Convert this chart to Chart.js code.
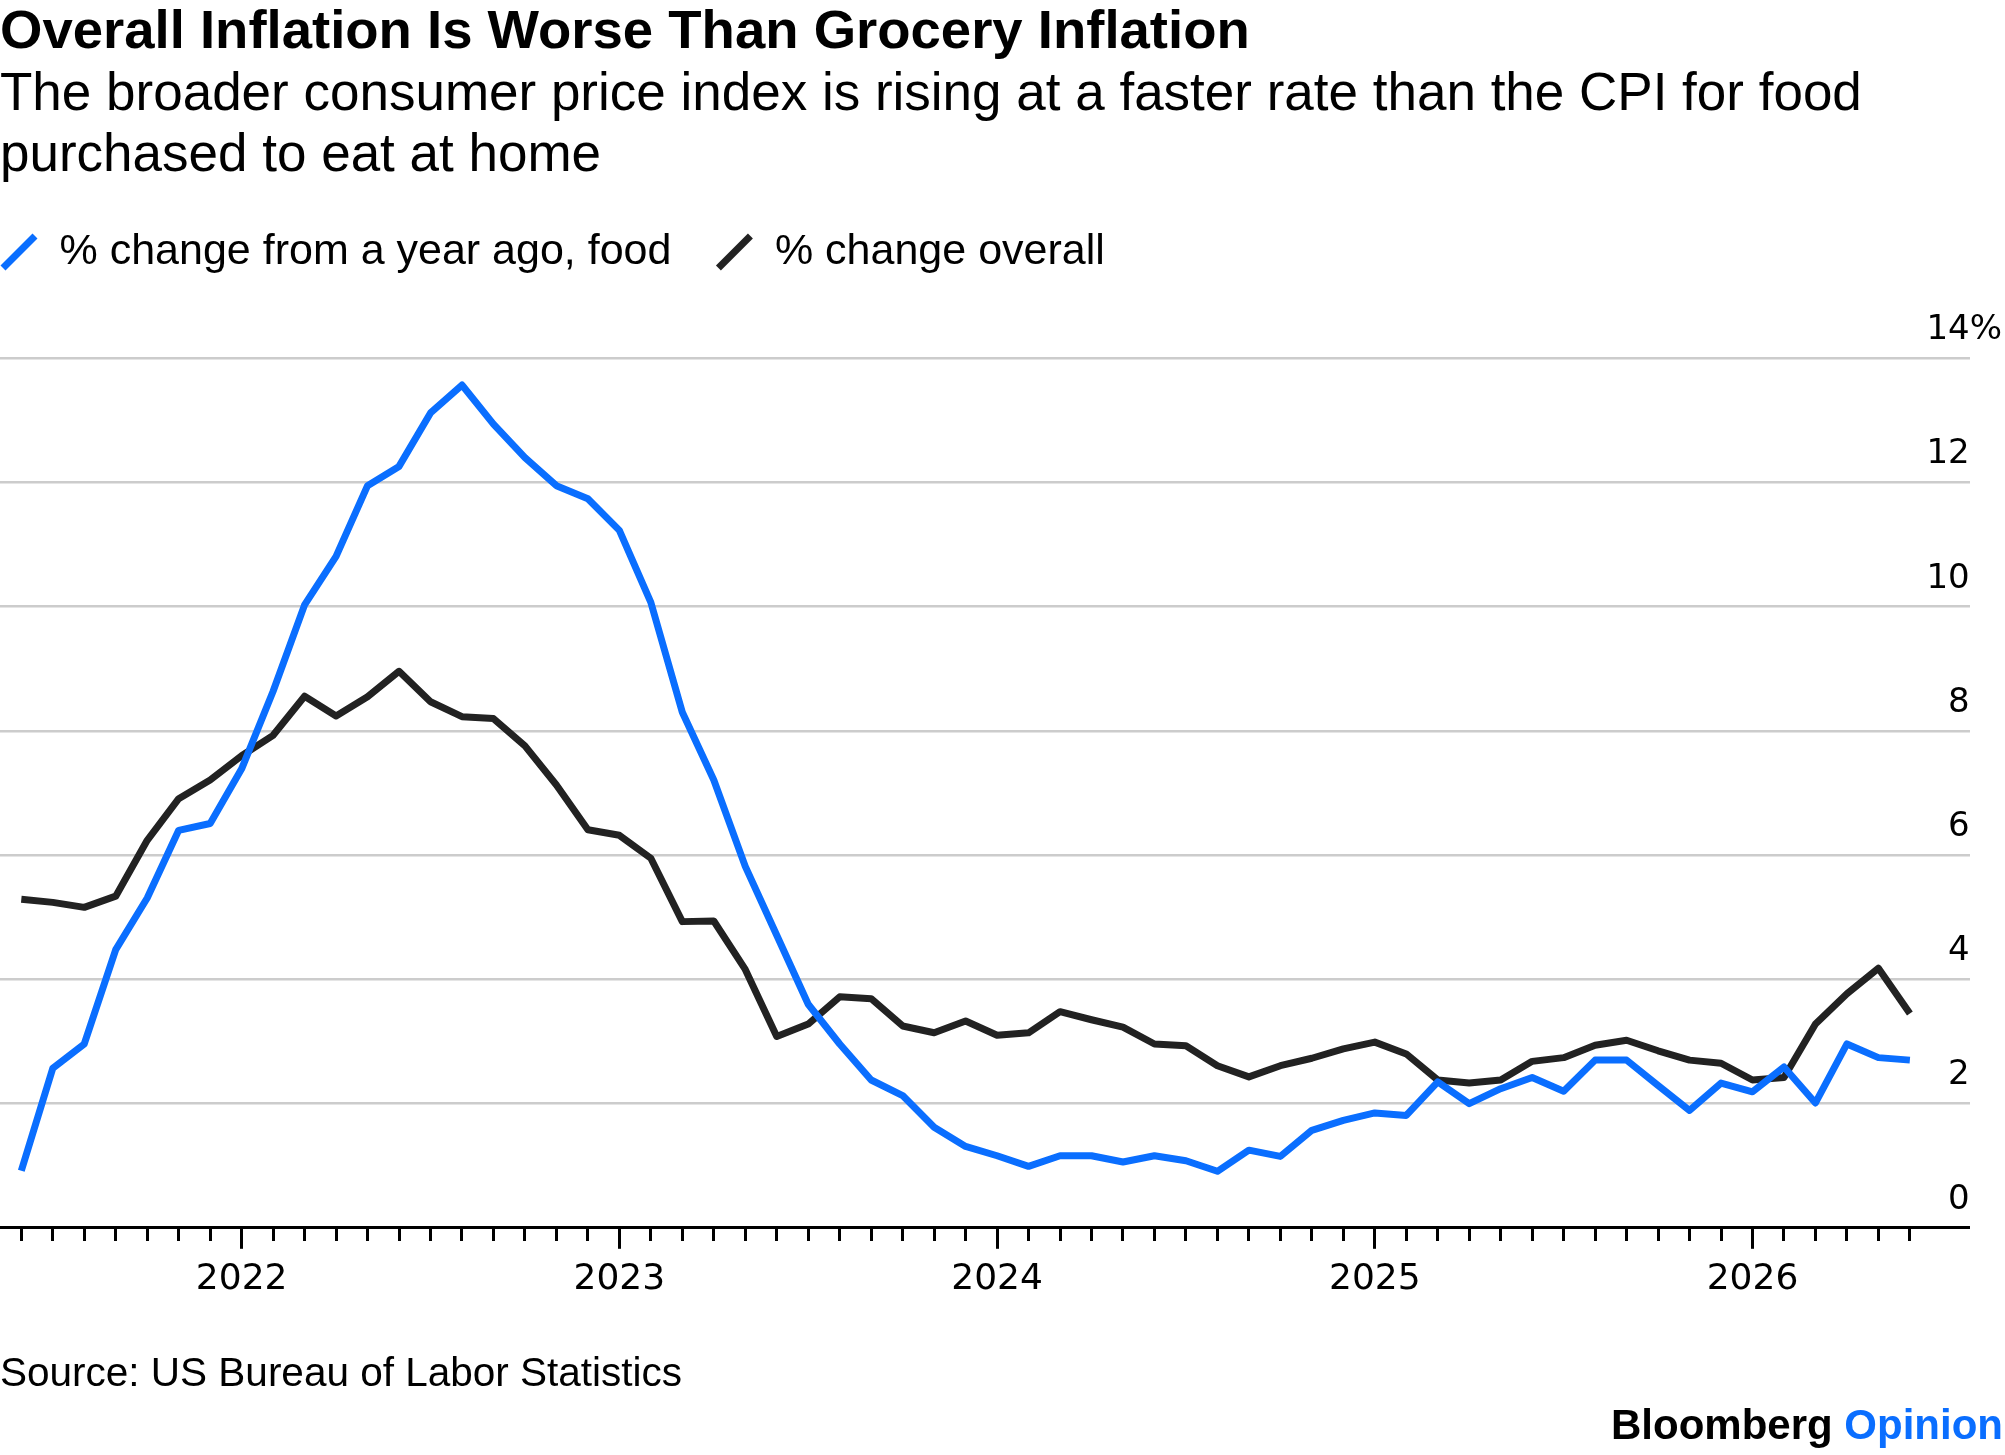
<!DOCTYPE html>
<html>
<head>
<meta charset="utf-8">
<script src="https://cdn.jsdelivr.net/npm/chart.js@4.4.1/dist/chart.umd.min.js"></script>
<style>
  html, body { margin: 0; padding: 0; background: #ffffff; }
  #wrap { position: relative; width: 2005px; height: 1455px; overflow: hidden; }
  #c { position: absolute; left: 0; top: 0; }
  #source { position: absolute; left: 0; top: 1352px; font: 40.5px/1 "Liberation Sans", Arial, sans-serif; color: #000; white-space: nowrap; }
  #brand { position: absolute; right: 2px; top: 1404px; font: bold 42px/1 "Liberation Sans", Arial, sans-serif; color: #000; white-space: nowrap; }
  #brand span { color: #0a6eff; }
</style>
</head>
<body>
<div id="wrap">
  <canvas id="c" width="2005" height="1455"></canvas>
  <div id="source">Source: US Bureau of Labor Statistics</div>
  <div id="brand">Bloomberg <span>Opinion</span></div>
</div>
<script>
// ---------- DATA ----------
const months = [
  '2021-06','2021-07','2021-08','2021-09','2021-10','2021-11','2021-12',
  '2022-01','2022-02','2022-03','2022-04','2022-05','2022-06','2022-07','2022-08','2022-09','2022-10','2022-11','2022-12',
  '2023-01','2023-02','2023-03','2023-04','2023-05','2023-06','2023-07','2023-08','2023-09','2023-10','2023-11','2023-12',
  '2024-01','2024-02','2024-03','2024-04','2024-05','2024-06','2024-07','2024-08','2024-09','2024-10','2024-11','2024-12',
  '2025-01','2025-02','2025-03','2025-04','2025-05','2025-06','2025-07','2025-08','2025-09','2025-10','2025-11','2025-12',
  '2026-01','2026-02','2026-03','2026-04','2026-05','2026-06'
];
const foodYoY = [
  0.92, 2.57, 2.96, 4.48, 5.31, 6.40, 6.51,
  7.39, 8.64, 10.03, 10.81, 11.95, 12.26, 13.12, 13.57, 12.94, 12.40, 11.95, 11.74,
  11.23, 10.07, 8.30, 7.21, 5.82, 4.71, 3.60, 2.96, 2.38, 2.13, 1.62, 1.31,
  1.16, 0.99, 1.16, 1.16, 1.06, 1.16, 1.08, 0.91, 1.25, 1.15, 1.57, 1.73,
  1.85, 1.81, 2.35, 2.00, 2.24, 2.42, 2.20, 2.70, 2.70, 2.29, 1.89, 2.33,
  2.19, 2.59, 2.01, 2.96, 2.74, 2.70
];
const overallYoY = [
  5.29, 5.24, 5.16, 5.34, 6.24, 6.91, 7.21,
  7.60, 7.93, 8.56, 8.24, 8.55, 8.96, 8.47, 8.23, 8.20, 7.76, 7.13, 6.41,
  6.32, 5.95, 4.93, 4.94, 4.16, 3.08, 3.28, 3.72, 3.69, 3.25, 3.14, 3.33,
  3.10, 3.14, 3.48, 3.35, 3.23, 2.96, 2.93, 2.61, 2.43, 2.61, 2.73, 2.88,
  2.99, 2.80, 2.38, 2.33, 2.38, 2.68, 2.74, 2.94, 3.02, 2.85, 2.70, 2.65,
  2.38, 2.42, 3.28, 3.77, 4.18, 3.45
];
const yearLabels = ['2022', '2023', '2024', '2025', '2026'];
const yTicks = [0, 2, 4, 6, 8, 10, 12, 14];
const seriesNames = ['% change from a year ago, food', '% change overall'];
const titleText = 'Overall Inflation Is Worse Than Grocery Inflation';
const subtitleLines = [
  'The broader consumer price index is rising at a faster rate than the CPI for food',
  'purchased to eat at home'
];

// ---------- HELPERS ----------
const BASE_YEAR = 2022;
function monthOffset(s) {
  return (Number(s.slice(0, 4)) - BASE_YEAR) * 12 + Number(s.slice(5, 7)) - 1;
}
const xs = months.map(monthOffset);
const toPoints = arr => arr.map((v, i) => ({ x: xs[i], y: v }));

const SANS = '"Liberation Sans", Arial, Helvetica, sans-serif';
const AXISF = '"DejaVu Sans", "Liberation Sans", sans-serif';
const BLUE = '#0a6eff';
const DARK = '#222222';
const Y_MAX = 15.19;

const legendShift = {
  id: 'legendShift',
  afterLayout(chart) {
    const lg = chart.legend;
    if (!lg) return;
    lg.left -= lg.options.labels.padding;
    lg.top -= 1;
  }
};

new Chart(document.getElementById('c'), {
  type: 'line',
  data: {
    datasets: [
      {
        label: seriesNames[0],
        data: toPoints(foodYoY),
        borderColor: BLUE, backgroundColor: BLUE,
        borderWidth: 7, pointRadius: 0, pointHoverRadius: 0,
        pointStyle: 'line', pointRotation: -45,
        tension: 0, borderJoinStyle: 'round', borderCapStyle: 'butt'
      },
      {
        label: seriesNames[1],
        data: toPoints(overallYoY),
        borderColor: DARK, backgroundColor: DARK,
        borderWidth: 7, pointRadius: 0, pointHoverRadius: 0,
        pointStyle: 'line', pointRotation: -45,
        tension: 0, borderJoinStyle: 'round', borderCapStyle: 'butt'
      }
    ]
  },
  options: {
    responsive: false,
    animation: false,
    devicePixelRatio: 1,
    events: [],
    layout: { padding: { left: 0, right: 3, top: 0, bottom: 145 } },
    plugins: {
      title: {
        display: true, text: titleText, align: 'start', color: '#000',
        font: { family: SANS, size: 54.5, weight: 'bold', lineHeight: 1.1 },
        padding: { top: 2.8, bottom: 1.3 }
      },
      subtitle: {
        display: true, text: subtitleLines, align: 'start', color: '#000',
        font: { family: SANS, size: 53, weight: 'normal', lineHeight: 1.164 },
        padding: { top: 0, bottom: 0 }
      },
      legend: {
        display: true, position: 'top', align: 'start',
        labels: {
          usePointStyle: true, boxWidth: 38, boxHeight: 32, padding: 44,
          color: '#000', font: { family: SANS, size: 43 }
        }
      },
      tooltip: { enabled: false }
    },
    scales: {
      x: {
        type: 'linear', position: 'bottom',
        min: -7.677, max: 54.9,
        afterBuildTicks: s => { s.ticks = xs.map(v => ({ value: v })); },
        ticks: {
          autoSkip: false, maxRotation: 0, minRotation: 0, padding: 9,
          color: '#000', font: { family: AXISF, size: 36 },
          callback: v => (v % 12 === 0 ? yearLabels[v / 12] : '')
        },
        grid: {
          drawOnChartArea: false, drawTicks: true, tickLength: 21,
          tickWidth: 3, tickColor: '#000',
          tickBorderDash: c => (c.tick && c.tick.value % 12 === 0) ? [] : [12, 60]
        },
        border: { display: true, color: '#000', width: 3 }
      },
      y: {
        position: 'right', min: 0, max: Y_MAX,
        afterBuildTicks: s => { s.ticks = yTicks.map(v => ({ value: v })); },
        ticks: {
          mirror: true, padding: 0, labelOffset: -28, color: '#000',
          font: { family: AXISF, size: 34 },
          callback: v => String(v)
        },
        grid: {
          color: c => (c.tick && c.tick.value === 0) ? 'rgba(0,0,0,0)' : '#cccccc',
          lineWidth: 2.6, drawTicks: false
        },
        border: { display: false }
      },
      yp: {
        position: 'right', min: 0, max: Y_MAX,
        afterBuildTicks: s => { s.ticks = [{ value: yTicks[yTicks.length - 1] }]; },
        ticks: {
          padding: 0, labelOffset: -28, color: '#000',
          font: { family: AXISF, size: 34 },
          callback: () => '%'
        },
        grid: { display: false, drawTicks: false },
        border: { display: false }
      }
    }
  },
  plugins: [legendShift]
});
</script>
</body>
</html>
